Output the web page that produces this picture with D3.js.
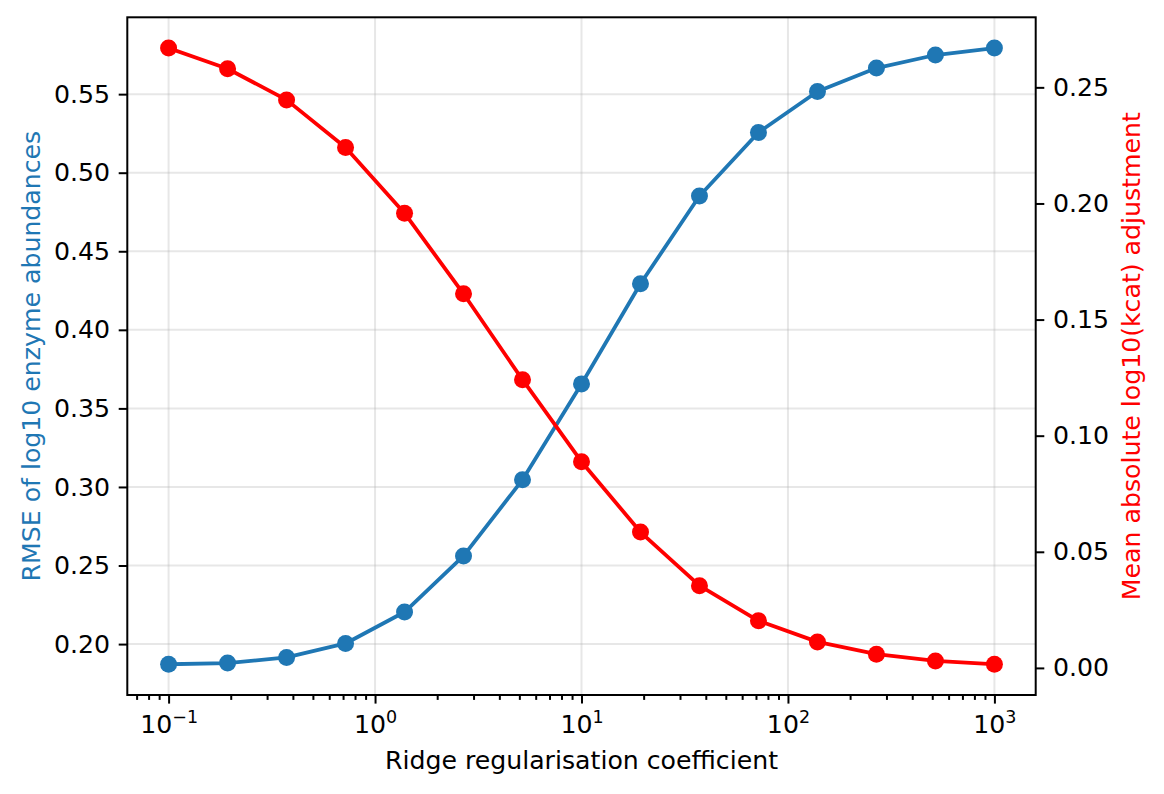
<!DOCTYPE html>
<html>
<head>
<meta charset="utf-8">
<script src="https://cdn.jsdelivr.net/npm/d3@7"></script>
<style>
    html, body { margin: 0; padding: 0; background: #fff; }
    svg text { font-family: "DejaVu Sans", sans-serif; }
</style>
</head>
<body>
<div id="chart"></div>
<script>
// ============================================================================
// DATA
// ============================================================================

const ridgeCoef = [0.1, 0.1931, 0.3728, 0.7197, 1.3895, 2.6827, 5.1795, 10,
                   19.307, 37.276, 71.969, 138.95, 268.27, 517.95, 1000];

const rmseValues = [0.1872, 0.1879, 0.1915, 0.2004, 0.2204, 0.2561, 0.3046, 0.3656,
                    0.4293, 0.4852, 0.5256, 0.5517, 0.5666, 0.5749, 0.5793];

const kcatAdjust = [0.2669, 0.2580, 0.2446, 0.2241, 0.1958, 0.1611, 0.1241, 0.0888,
                    0.0585, 0.0354, 0.0203, 0.0112, 0.0059, 0.0030, 0.0016];

const leftTicks  = [0.20, 0.25, 0.30, 0.35, 0.40, 0.45, 0.50, 0.55];
const rightTicks = [0.00, 0.05, 0.10, 0.15, 0.20, 0.25];
const xMajorExp  = [-1, 0, 1, 2, 3];


// ============================================================================
// SETUP
// ============================================================================

const W = 1164, H = 794;
const margin = { top: 17.3, right: 128.3, bottom: 99, left: 127.3 };
const width  = W - margin.left - margin.right;
const height = H - margin.top  - margin.bottom;

const BLUE = "#1f77b4";
const RED  = "#ff0000";
const FS   = 25.2;      // matplotlib 10pt at this dpi
const MAJ  = 8.6, MIN = 4.9, PAD = 8.6;

const svg = d3.select("#chart")
    .append("svg")
    .attr("width", W)
    .attr("height", H);

const g = svg.append("g")
    .attr("transform", `translate(${margin.left},${margin.top})`);

// matplotlib-style 5% margins
function padded(ext) {
    const p = (ext[1] - ext[0]) * 0.05;
    return [ext[0] - p, ext[1] + p];
}

const logExt = d3.extent(ridgeCoef).map(Math.log10);
const logDom = padded(logExt);

const x = d3.scaleLog()
    .domain([10 ** logDom[0], 10 ** logDom[1]])
    .range([0, width]);

const yL = d3.scaleLinear()
    .domain(padded(d3.extent(rmseValues)))
    .range([height, 0]);

const yR = d3.scaleLinear()
    .domain(padded(d3.extent(kcatAdjust)))
    .range([height, 0]);


// ============================================================================
// GRID (left axis only)
// ============================================================================

const gridG = g.append("g").attr("class", "grid");

gridG.selectAll("line.gx")
    .data(xMajorExp)
    .join("line")
    .attr("class", "gx")
    .attr("x1", d => x(10 ** d)).attr("x2", d => x(10 ** d))
    .attr("y1", 0).attr("y2", height)
    .attr("stroke", "#b0b0b0")
    .attr("stroke-opacity", 0.3)
    .attr("stroke-width", 2);

gridG.selectAll("line.gy")
    .data(leftTicks)
    .join("line")
    .attr("class", "gy")
    .attr("x1", 0).attr("x2", width)
    .attr("y1", d => yL(d)).attr("y2", d => yL(d))
    .attr("stroke", "#b0b0b0")
    .attr("stroke-opacity", 0.3)
    .attr("stroke-width", 2);


// ============================================================================
// AXES
// ============================================================================

function styleAxis(sel) {
    sel.select(".domain").remove();
    sel.selectAll(".tick line").attr("stroke", "#000").attr("stroke-width", 2);
    sel.selectAll(".tick text")
        .attr("fill", "#000")
        .style("font-size", FS + "px")
        .style("font-family", "DejaVu Sans, sans-serif");
}

// minor ticks on log x
const minorVals = [];
d3.range(Math.floor(logDom[0]), Math.ceil(logDom[1])).forEach(e => {
    d3.range(2, 10).forEach(m => {
        const v = m * 10 ** e;
        if (v >= x.domain()[0] && v <= x.domain()[1]) minorVals.push(v);
    });
});

g.append("g")
    .attr("transform", `translate(0,${height})`)
    .call(d3.axisBottom(x).tickValues(minorVals).tickSize(MIN).tickFormat(""))
    .call(styleAxis);

const xAxisG = g.append("g")
    .attr("transform", `translate(0,${height})`)
    .call(d3.axisBottom(x)
        .tickValues(xMajorExp.map(e => 10 ** e))
        .tickSize(MAJ)
        .tickPadding(PAD)
        .tickFormat(""))
    .call(styleAxis);

// mathtext-like 10^n labels
xAxisG.selectAll(".tick").each(function (d) {
    const e = Math.round(Math.log10(d));
    const t = d3.select(this).append("text")
        .attr("y", 38)
        .attr("text-anchor", "middle")
        .attr("fill", "#000")
        .style("font-size", FS + "px");
    t.append("tspan").text("10");
    t.append("tspan")
        .attr("dy", -10)
        .style("font-size", "17.5px")
        .text(e < 0 ? "\u2212" + Math.abs(e) : String(e));
});

g.append("g")
    .call(d3.axisLeft(yL)
        .tickValues(leftTicks)
        .tickSize(MAJ)
        .tickPadding(PAD)
        .tickFormat(d3.format(".2f")))
    .call(styleAxis);

g.append("g")
    .attr("transform", `translate(${width},0)`)
    .call(d3.axisRight(yR)
        .tickValues(rightTicks)
        .tickSize(MAJ)
        .tickPadding(PAD)
        .tickFormat(d3.format(".2f")))
    .call(styleAxis);


// ============================================================================
// SERIES
// ============================================================================

function drawSeries(values, yScale, color, cls) {
    const pts = ridgeCoef.map((c, i) => ({ c, v: values[i] }));

    g.append("path")
        .datum(pts)
        .attr("fill", "none")
        .attr("stroke", color)
        .attr("stroke-width", 3.8)
        .attr("stroke-linejoin", "round")
        .attr("stroke-linecap", "square")
        .attr("d", d3.line().x(d => x(d.c)).y(d => yScale(d.v)));

    g.selectAll(`circle.${cls}`)
        .data(pts)
        .join("circle")
        .attr("class", cls)
        .attr("cx", d => x(d.c))
        .attr("cy", d => yScale(d.v))
        .attr("r", 8.5)
        .attr("fill", color);
}

drawSeries(rmseValues, yL, BLUE, "rmse");
drawSeries(kcatAdjust, yR, RED, "kcat");


// ============================================================================
// FRAME + LABELS
// ============================================================================

g.append("rect")
    .attr("x", 0).attr("y", 0)
    .attr("width", width).attr("height", height)
    .attr("fill", "none")
    .attr("stroke", "#000")
    .attr("stroke-width", 2);

svg.append("text")
    .attr("x", margin.left + width / 2)
    .attr("y", 769)
    .attr("text-anchor", "middle")
    .style("font-size", FS + "px")
    .attr("fill", "#000")
    .text("Ridge regularisation coefficient");

svg.append("text")
    .attr("transform", `translate(40,${margin.top + height / 2}) rotate(-90)`)
    .attr("text-anchor", "middle")
    .style("font-size", FS + "px")
    .attr("fill", BLUE)
    .text("RMSE of log10 enzyme abundances");

svg.append("text")
    .attr("transform", `translate(1140,${margin.top + height / 2}) rotate(-90)`)
    .attr("text-anchor", "middle")
    .style("font-size", FS + "px")
    .attr("fill", RED)
    .text("Mean absolute log10(kcat) adjustment");
</script>
</body>
</html>
